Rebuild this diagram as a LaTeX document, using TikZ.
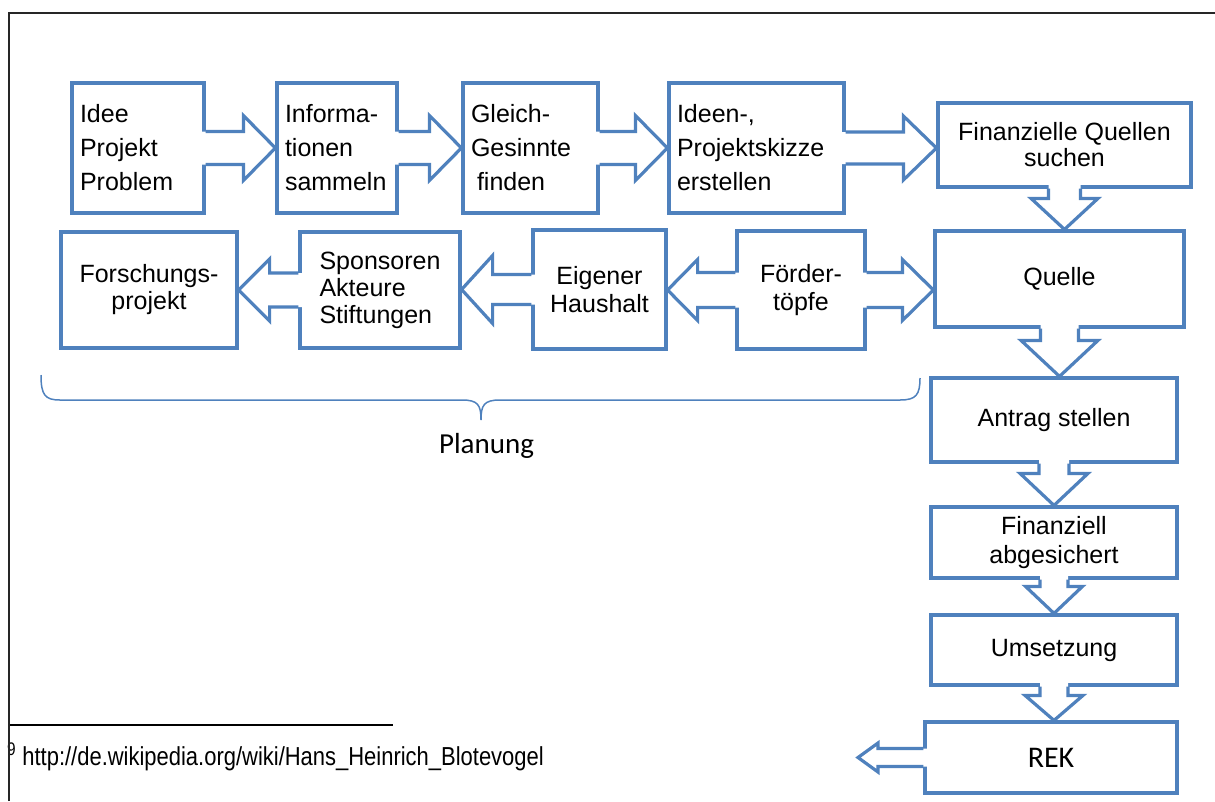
\documentclass[tikz,border=0pt]{standalone}
\usepackage{fontspec}
\setmainfont{Liberation Sans}
\newfontfamily\calibri{Carlito}
\newfontfamily\narrowfont[FakeStretch=0.845]{Liberation Sans}
\usetikzlibrary{calc}

% open block arrow: #1 start on source edge, #2 tip, #3 half shaft, #4 half head, #5 head length
\newcommand{\blockarr}[5]{%
    \coordinate (ba-s) at (#1);
    \coordinate (ba-t) at (#2);
    \coordinate (ba-b) at ($(ba-t)!#5pt!(ba-s)$);
    \coordinate (ba-r) at ($(ba-s)!-4pt!(ba-t)$);
    \fill[white] ($(ba-r)!#3pt!90:(ba-t)$) -- ($(ba-b)!#3pt!-90:(ba-s)$) --
        ($(ba-b)!#4pt!-90:(ba-s)$) -- (ba-t) -- ($(ba-b)!#4pt!90:(ba-s)$) --
        ($(ba-b)!#3pt!90:(ba-s)$) -- ($(ba-r)!#3pt!-90:(ba-t)$) -- cycle;
    \draw[arrowline] ($(ba-s)!#3pt!90:(ba-t)$) -- ($(ba-b)!#3pt!-90:(ba-s)$) --
        ($(ba-b)!#4pt!-90:(ba-s)$) -- (ba-t) -- ($(ba-b)!#4pt!90:(ba-s)$) --
        ($(ba-b)!#3pt!90:(ba-s)$) -- ($(ba-s)!#3pt!-90:(ba-t)$);
}

\begin{document}
\begin{tikzpicture}[
    x=1pt,
    y=-1pt,
    box/.style={draw=boxblue, line width=3.2pt, fill=white, inner sep=0pt,
        align=center, font=\fontsize{25}{28}\selectfont},
    leftbox/.style={box, align=left, inner xsep=8pt, minimum height=130pt,
        font=\fontsize{25}{34}\selectfont},
    arrowline/.style={draw=boxblue, line width=3.2pt, line join=miter},
    bracket/.style={draw=boxblue, line width=1.5pt}
]

\definecolor{boxblue}{RGB}{79,129,189}

\useasboundingbox (0,0) rectangle (1215,801);

% upper row, read left to right
\node[leftbox, text width=116pt] (idee) at (138,148) {Idee\\Projekt\\Problem};
\node[leftbox, text width=104pt] (info) at (337,148) {Informa-\\tionen\\sammeln};
\node[leftbox, text width=119pt] (gleich) at (530.5,148) {Gleich-\\Gesinnte\\\hspace{6pt}finden};
\node[leftbox, text width=159pt] (ideen) at (756.5,148) {Ideen-,\\Projektskizze\\erstellen};
\node[box, minimum width=253pt, minimum height=84pt, font=\fontsize{25}{26}\selectfont]
    (fq) at (1064.5,145) {Finanzielle Quellen\\suchen};

% lower row, read right to left
\node[box, minimum width=249pt, minimum height=96pt] (quelle) at (1059.5,279) {Quelle};
\node[box, minimum width=128pt, minimum height=118pt] (foerder) at (801,290) {Förder-\\töpfe};
\node[box, minimum width=133pt, minimum height=119pt] (eigener) at (599.5,289.5) {Eigener\\Haushalt};
\node[box, align=left, minimum width=160pt, minimum height=116pt, font=\fontsize{25}{27}\selectfont]
    (sponsoren) at (380,290) {Sponsoren\\Akteure\\Stiftungen};
\node[box, minimum width=176pt, minimum height=116pt, font=\fontsize{25}{27}\selectfont]
    (forschung) at (149,290) {Forschungs-\\projekt};

% right column
\node[box, minimum width=246pt, minimum height=84pt] (antrag) at (1054,420) {Antrag stellen};
\node[box, minimum width=246pt, minimum height=71pt, font=\fontsize{25}{29}\selectfont]
    (finanziell) at (1054,542.5) {Finanziell\\abgesichert};
\node[box, minimum width=246pt, minimum height=70pt] (umsetzung) at (1054,650) {Umsetzung};
\node[box, minimum width=252pt, minimum height=71pt, font=\calibri\fontsize{30}{34}\selectfont]
    (rek) at (1051,757.5) {REK};
\coordinate (rekout) at (858,757.5);

\blockarr{idee.east}{idee.east -| info.west}{16.5}{32.5}{32}
\blockarr{info.east}{info.east -| gleich.west}{16.5}{32.5}{32}
\blockarr{gleich.east}{gleich.east -| ideen.west}{16.5}{32.5}{32}
\blockarr{ideen.east}{ideen.east -| fq.west}{16}{32}{33}
\blockarr{fq.south}{fq.south |- quelle.north}{16}{33.5}{31}
\blockarr{foerder.east}{foerder.east -| quelle.west}{17.5}{30.5}{31}
\blockarr{foerder.west}{foerder.west -| eigener.east}{17.5}{30.5}{30}
\blockarr{eigener.west}{eigener.west -| sponsoren.east}{15}{34}{31}
\blockarr{sponsoren.west}{sponsoren.west -| forschung.east}{17}{31}{31}
\blockarr{quelle.south}{quelle.south |- antrag.north}{19}{38.5}{36}
\blockarr{antrag.south}{antrag.south |- finanziell.north}{15}{34}{32}
\blockarr{finanziell.south}{finanziell.south |- umsetzung.north}{14}{28.5}{27}
\blockarr{umsetzung.south}{umsetzung.south |- rek.north}{14}{29}{25}
\blockarr{rek.west}{rekout}{9}{14.5}{20}

% brace under the planning part
\draw[bracket] (41,375) .. controls (41,395) and (45,400) .. (60,400) -- (462,400)
    .. controls (478,400) and (481,405) .. (481,420)
    .. controls (481,405) and (484,400) .. (500,400) -- (900,400)
    .. controls (916,400) and (920,395) .. (920,378);
\node[anchor=base, inner sep=0pt, font=\calibri\fontsize{29}{34}\selectfont] (planung) at (486.5,453) {Planung};

% footnote of the page
\draw[line width=1.5pt] (9,725) -- (393,725);
\node[anchor=base west, inner sep=0pt, font=\narrowfont\fontsize{26}{30}\selectfont]
    (fn) at (7,765) {\textsuperscript{9} http://de.wikipedia.org/wiki/Hans\_Heinrich\_Blotevogel};

% page frame
\draw[line width=2pt, black!85] (9,801) -- (9,13) -- (1215,13);

\end{tikzpicture}
\end{document}
